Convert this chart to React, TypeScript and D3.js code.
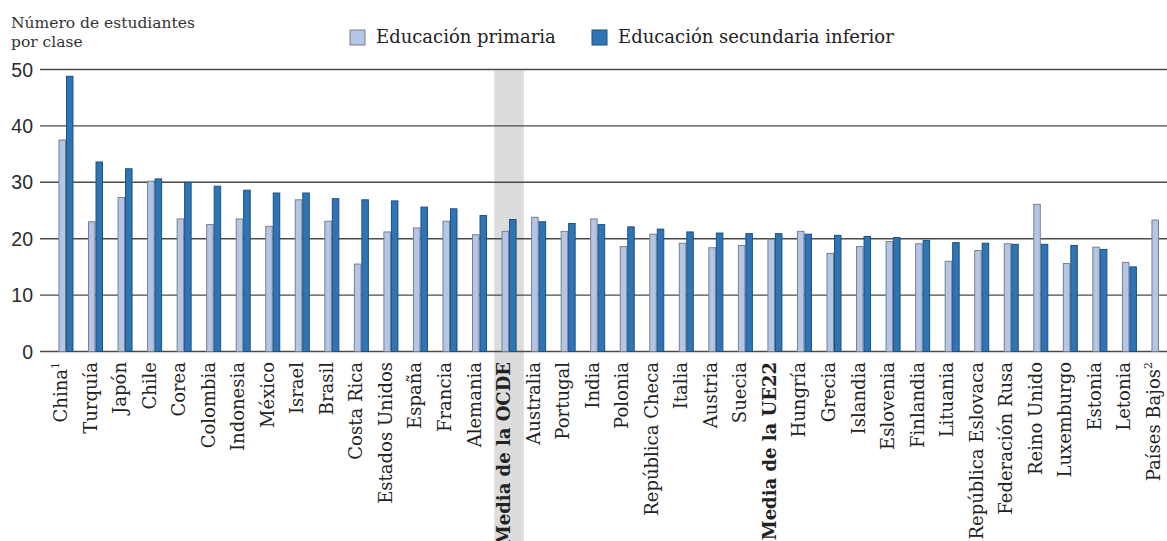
import { useRef, useEffect } from 'react'
import * as d3 from 'd3'

const CATEGORIES = [
  'China', 'Turquía', 'Japón', 'Chile', 'Corea', 'Colombia', 'Indonesia', 'México', 'Israel', 'Brasil',
  'Costa Rica', 'Estados Unidos', 'España', 'Francia', 'Alemania', 'Media de la OCDE', 'Australia',
  'Portugal', 'India', 'Polonia', 'República Checa', 'Italia', 'Austria', 'Suecia', 'Media de la UE22',
  'Hungría', 'Grecia', 'Islandia', 'Eslovenia', 'Finlandia', 'Lituania', 'República Eslovaca',
  'Federación Rusa', 'Reino Unido', 'Luxemburgo', 'Estonia', 'Letonia', 'Países Bajos',
]

const PRIMARIA = [
  37.5, 23.0, 27.3, 30.2, 23.5, 22.5, 23.5, 22.2, 26.9, 23.1,
  15.5, 21.2, 21.9, 23.1, 20.7, 21.3, 23.8,
  21.3, 23.5, 18.6, 20.8, 19.2, 18.4, 18.8, 19.9,
  21.3, 17.4, 18.6, 19.5, 19.1, 16.0, 17.9,
  19.1, 26.1, 15.6, 18.5, 15.8, 23.3,
]

const SECUNDARIA: (number | null)[] = [
  48.8, 33.6, 32.4, 30.6, 30.0, 29.3, 28.6, 28.1, 28.1, 27.1,
  26.9, 26.7, 25.6, 25.3, 24.1, 23.4, 23.0,
  22.7, 22.5, 22.1, 21.7, 21.2, 21.0, 20.9, 20.9,
  20.8, 20.6, 20.4, 20.2, 19.7, 19.3, 19.2,
  19.0, 19.0, 18.8, 18.1, 15.0, null,
]

const SERIES = ['Educación primaria', 'Educación secundaria inferior']
const Y_TICKS = [0, 10, 20, 30, 40, 50]
const AVERAGES = ['Media de la OCDE', 'Media de la UE22']
const NOTES: Record<string, string> = { 'China': '1', 'Países Bajos': '2' }

const COLORS = ['#b4c6e7', '#2e75b6']
const STROKES = ['#7a7f8a', '#1d4f80']
const SERIF = '"DejaVu Serif", serif'

export default function App() {
  const svgRef = useRef<SVGSVGElement>(null)

  useEffect(() => {
    if (!svgRef.current) return
    const W = 1167
    const H = 541
    const svg = d3.select(svgRef.current)
    svg.selectAll('*').remove()

    const x = d3.scaleBand<string>().domain(CATEGORIES).range([51.2, 51.2 + 29.54 * CATEGORIES.length]).padding(0)
    const xs = d3.scaleBand<string>().domain(SERIES).range([0, x.bandwidth()]).paddingInner(0).paddingOuter(0.97)
    const y = d3.scaleLinear().domain([0, 50]).range([351.5, 69.5])

    // OECD average highlight band
    svg.append('rect')
      .attr('x', x('Media de la OCDE')!)
      .attr('y', y(50) + 1)
      .attr('width', x.bandwidth())
      .attr('height', H - y(50))
      .attr('fill', '#dcdcdc')

    // Grid lines
    svg.append('g').selectAll('line').data(Y_TICKS).enter().append('line')
      .attr('x1', 40).attr('x2', W)
      .attr('y1', d => y(d)).attr('y2', d => y(d))
      .attr('stroke', '#4a4a4a').attr('stroke-width', 1.4)

    // Tick labels
    svg.append('g').selectAll('text').data(Y_TICKS).enter().append('text')
      .attr('x', 33).attr('y', d => y(d))
      .attr('dy', '0.36em')
      .attr('text-anchor', 'end')
      .attr('font-family', '"Liberation Sans", Arial, sans-serif')
      .attr('font-size', 19.5)
      .attr('fill', '#2b2b2b')
      .text(d => d)

    // Y axis title
    const title = svg.append('text')
      .attr('font-family', SERIF).attr('font-size', 15.5).attr('fill', '#333')
    title.append('tspan').attr('x', 11).attr('y', 28).text('Número de estudiantes')
    title.append('tspan').attr('x', 11).attr('y', 47).text('por clase')

    // Bars
    const rows = CATEGORIES.map((c, i) => ({ c, vals: [PRIMARIA[i], SECUNDARIA[i]] }))
    const groups = svg.append('g').selectAll('g').data(rows).enter().append('g')
      .attr('transform', d => `translate(${x(d.c)},0)`)
    groups.selectAll('rect')
      .data(d => d.vals.map((v, k) => ({ v, k })).filter(e => e.v !== null))
      .enter().append('rect')
      .attr('x', e => xs(SERIES[e.k])! + 0.5)
      .attr('y', e => y(e.v as number))
      .attr('width', xs.bandwidth() - 1)
      .attr('height', e => y(0) - y(e.v as number))
      .attr('fill', e => COLORS[e.k])
      .attr('stroke', e => STROKES[e.k])
      .attr('stroke-width', 1)

    // Category labels
    const labels = svg.append('g').selectAll('text').data(CATEGORIES).enter().append('text')
      .attr('transform', c => `translate(${x(c)! + x.bandwidth() / 2 + 1},362) rotate(-90)`)
      .attr('text-anchor', 'end')
      .attr('font-family', SERIF)
      .attr('font-size', 18)
      .attr('font-weight', c => AVERAGES.includes(c) ? 'bold' : 'normal')
      .attr('fill', '#222')
    labels.append('tspan').text(c => c)
    labels.filter(c => !!NOTES[c]).append('tspan')
      .attr('font-size', 11)
      .attr('dy', '-0.7em')
      .text(c => NOTES[c])

    // Legend
    const legendX = [350, 592]
    const legend = svg.append('g').selectAll('g').data(SERIES).enter().append('g')
      .attr('transform', (_, i) => `translate(${legendX[i]},30)`)
    legend.append('rect')
      .attr('width', 15).attr('height', 15)
      .attr('fill', (_, i) => COLORS[i])
      .attr('stroke', (_, i) => STROKES[i])
    legend.append('text')
      .attr('x', 26).attr('y', 13)
      .attr('font-family', SERIF).attr('font-size', 18).attr('fill', '#222')
      .text(d => d)
  }, [])

  return (
    <div style={{ position: 'absolute', left: 0, top: 0 }}>
      <svg ref={svgRef} width={1167} height={541} style={{ display: 'block', background: '#fff' }} />
    </div>
  )
}
